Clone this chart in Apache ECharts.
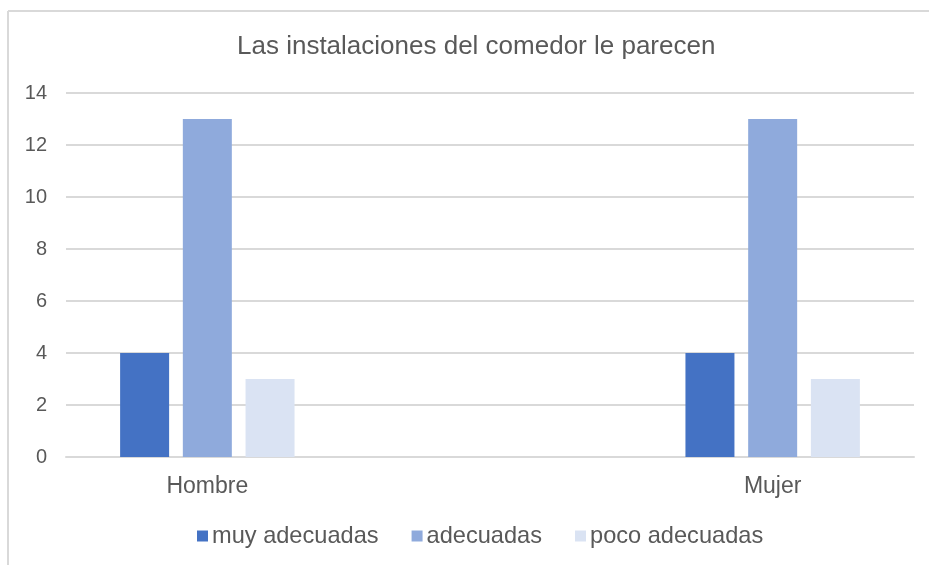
<!DOCTYPE html>
<html>
<head>
<meta charset="utf-8">
<script src="https://cdn.jsdelivr.net/npm/echarts@6/dist/echarts.min.js"></script>
<style>
  html, body { margin: 0; padding: 0; background: #fff; }
  #chart { width: 929px; height: 565px; }
</style>
</head>
<body>
<div id="chart"></div>
<script>
// Categories (the middle slot is an empty spacer group)
const categories = ['Hombre', '', 'Mujer'];
const seriesNames = ['muy adecuadas', 'adecuadas', 'poco adecuadas'];
const muyAdecuadas = [4, null, 4];
const adecuadas = [13, null, 13];
const pocoAdecuadas = [3, null, 3];
const yTicks = [0, 2, 4, 6, 8, 10, 12, 14];

const colors = ['#4472C4', '#8FAADC', '#DAE3F3'];
const textColor = '#595959';
const fontFamily = '"Liberation Sans", Arial, sans-serif';

const chart = echarts.init(document.getElementById('chart'), null, { renderer: 'canvas' });

function barSeries(name, data, color) {
  return {
    name: name,
    type: 'bar',
    data: data,
    barWidth: 49,
    barGap: '28%',
    itemStyle: { color: color },
    emphasis: { disabled: true }
  };
}

chart.setOption({
  animation: false,
  backgroundColor: '#ffffff',
  textStyle: { fontFamily: fontFamily },
  title: {
    text: 'Las instalaciones del comedor le parecen',
    left: 232,
    top: 29,
    textStyle: { color: textColor, fontSize: 26, fontWeight: 'normal', fontFamily: fontFamily }
  },
  legend: {
    bottom: 12,
    left: 192,
    itemWidth: 11,
    itemHeight: 11,
    itemGap: 33,
    icon: 'rect',
    data: seriesNames,
    textStyle: { color: textColor, fontSize: 23.6, fontFamily: fontFamily, padding: [0, 0, 0, -1] }
  },
  grid: { left: 66, right: 15, top: 93, bottom: 108, containLabel: false },
  xAxis: {
    type: 'category',
    data: categories,
    axisLine: { show: true, lineStyle: { color: '#D9D9D9', width: 2 } },
    axisTick: { show: false },
    axisLabel: { color: textColor, fontSize: 23, margin: 18, fontFamily: fontFamily }
  },
  yAxis: {
    type: 'value',
    min: yTicks[0],
    max: yTicks[yTicks.length - 1],
    interval: 2,
    axisLine: { show: false },
    axisTick: { show: false },
    splitLine: { lineStyle: { color: '#D9D9D9', width: 2 } },
    axisLabel: { color: textColor, fontSize: 20, margin: 19, fontFamily: fontFamily }
  },
  series: [
    barSeries(seriesNames[0], muyAdecuadas, colors[0]),
    barSeries(seriesNames[1], adecuadas, colors[1]),
    barSeries(seriesNames[2], pocoAdecuadas, colors[2])
  ],
  graphic: [
    { type: 'line', shape: { x1: 8, y1: 11, x2: 929, y2: 11 }, style: { stroke: '#D9D9D9', lineWidth: 2 } },
    { type: 'line', shape: { x1: 8, y1: 11, x2: 8, y2: 565 }, style: { stroke: '#D9D9D9', lineWidth: 2 } }
  ]
});
</script>
</body>
</html>
